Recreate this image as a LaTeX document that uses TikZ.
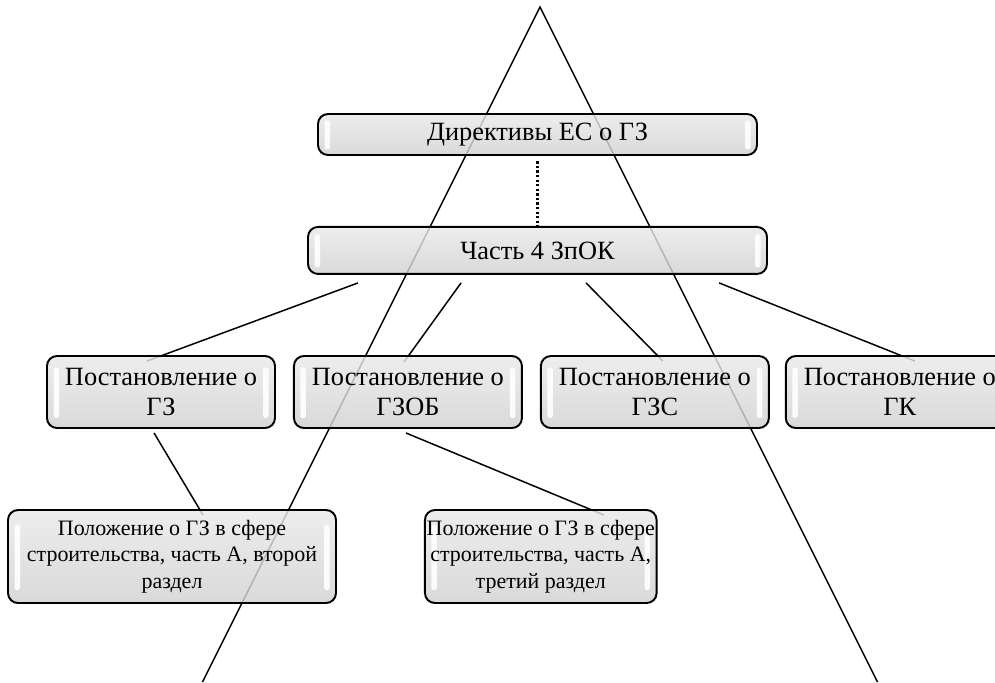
\documentclass[tikz,border=0pt]{standalone}
\usepackage{fontspec}
\setmainfont{Liberation Serif}
\usetikzlibrary{positioning}
\usetikzlibrary{calc}
\usetikzlibrary{backgrounds}

\begin{document}
\begin{tikzpicture}[
    node distance=0.34cm and 0.34cm,
    every node/.style={font=\fontsize{15}{17}\selectfont},
    shine/.style={white, fill opacity=0.9, rounded corners=1pt},
    box/.style={draw, line width=1.1pt, rounded corners=0.2cm, top color=gray!17, middle color=gray!25, bottom color=gray!36,
        fill opacity=0.82, text opacity=1, align=center, inner sep=1pt,
        path picture={
            \fill[shine] ($(path picture bounding box.south west)!0.14!(path picture bounding box.north west)+(0.13,0)$)
                rectangle ($(path picture bounding box.south west)!0.84!(path picture bounding box.north west)+(0.24,0)$);
            \fill[shine] ($(path picture bounding box.south east)!0.14!(path picture bounding box.north east)+(-0.13,0)$)
                rectangle ($(path picture bounding box.south east)!0.84!(path picture bounding box.north east)+(-0.24,0)$);
        }},
    small/.style={font=\fontsize{12.5}{15}\selectfont},
    link/.style={line width=0.85pt}
]
\useasboundingbox (0,0) rectangle (19.9,-13.64);
\clip (0,0) rectangle (19.9,-13.64);

% upper levels
\node[box, minimum width=8.78cm, minimum height=0.82cm] (dir) at (10.75,-2.69) {Директивы ЕС о ГЗ};
\node[box, minimum width=9.18cm, minimum height=0.94cm, below=1.4cm of dir] (part4) {Часть 4 ЗпОК};

% decrees
\node[box, minimum width=4.56cm, minimum height=1.44cm] (gz) at (3.22,-7.84) {Постановление о\\ГЗ};
\node[box, minimum width=4.56cm, minimum height=1.44cm, right=of gz] (gzob) {Постановление о\\ГЗОБ};
\node[box, minimum width=4.56cm, minimum height=1.44cm, right=of gzob] (gzs) {Постановление о\\ГЗС};
\node[box, minimum width=4.56cm, minimum height=1.44cm, right=0.3cm of gzs] (gk) {Постановление о\\ГК};

% regulations
\node[box, small, minimum width=6.56cm, minimum height=1.86cm] (polA) at (3.44,-11.13) {Положение о ГЗ в сфере\\строительства, часть А, второй\\раздел};
\node[box, small, minimum width=4.58cm, minimum height=1.86cm, right=1.74cm of polA] (polB) {Положение о ГЗ в сфере\\строительства, часть А,\\третий раздел};

\begin{scope}[on background layer]
\coordinate (apex) at (10.8,-0.14);
\coordinate (lfoot) at (4.05,-13.64);
\coordinate (rfoot) at (17.55,-13.64);
\draw[link] (lfoot) -- (apex) -- (rfoot);

\draw[line width=1.3pt, dash pattern=on 1.3pt off 1.3pt] ([yshift=-3pt]dir.south) -- ([yshift=-2pt]dir.south |- part4.north);
\draw[link] ($(part4.south west)+(1.02,-0.16)$) -- ($(gz.north west)+(2.02,-0.12)$);
\draw[link] ($(part4.south west)+(3.08,-0.16)$) -- ($(gzob.north west)+(2.22,-0.14)$);
\draw[link] ($(part4.south west)+(5.58,-0.16)$) -- ($(gzs.north west)+(2.46,-0.12)$);
\draw[link] ($(part4.south west)+(8.24,-0.16)$) -- ($(gk.north west)+(2.6,-0.12)$);
\draw[link] ($(gz.south west)+(2.16,-0.08)$) -- ($(polA.north west)+(3.92,-0.12)$);
\draw[link] ($(gzob.south west)+(2.26,-0.08)$) -- ($(polB.north west)+(3.6,-0.12)$);
\end{scope}
\end{tikzpicture}
\end{document}
